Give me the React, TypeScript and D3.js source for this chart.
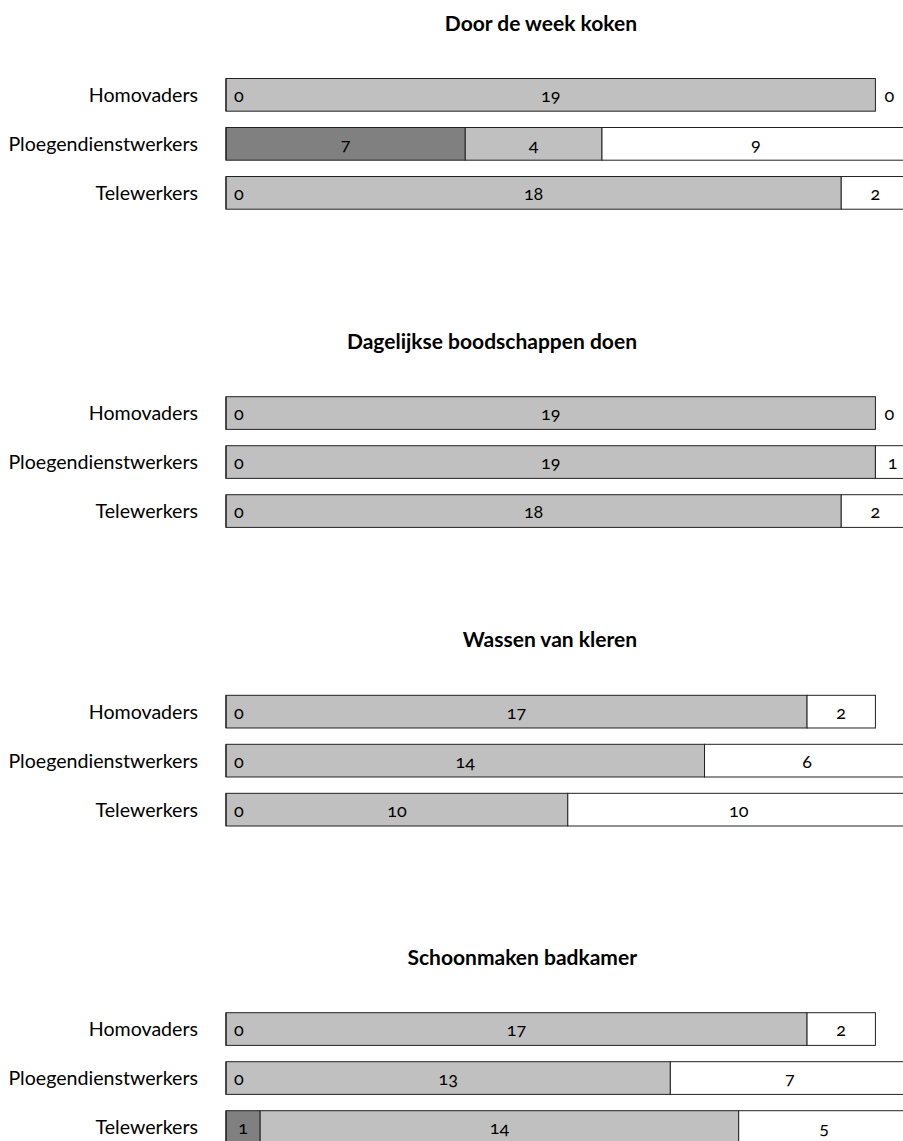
import React, { useEffect, useRef } from "react";
import * as d3 from "d3";

// panel titles
const titles: string[] = [
  "Door de week koken",
  "Dagelijkse boodschappen doen",
  "Wassen van kleren",
  "Schoonmaken badkamer",
];

const groups: string[] = ["Homovaders", "Ploegendienstwerkers", "Telewerkers"];

// three stacked parts per bar: [dark, light, white]
const koken: number[][] = [
  [0, 19, 0],
  [7, 4, 9],
  [0, 18, 2],
];
const boodschappen: number[][] = [
  [0, 19, 0],
  [0, 19, 1],
  [0, 18, 2],
];
const wassen: number[][] = [
  [0, 17, 2],
  [0, 14, 6],
  [0, 10, 10],
];
const badkamer: number[][] = [
  [0, 17, 2],
  [0, 13, 7],
  [1, 14, 5],
];

const panels = [koken, boodschappen, wassen, badkamer];

const width = 903;
const height = 1141;
const barLeft = 226;
const panelTops = [78.5, 396.7, 695.3, 1012.7];
const fills = ["#808080", "#c0c0c0", "#ffffff"];
const font = "Lato, 'Open Sans', sans-serif";

export default function App() {
  const holderRef = useRef<HTMLDivElement | null>(null);

  useEffect(() => {
    const holder = holderRef.current;
    if (!holder || holder.hasChildNodes()) return;

    const x = d3.scaleLinear().domain([0, 20]).range([barLeft, barLeft + 20 * 34.18]);

    const svg = d3
      .select(holder)
      .append("svg")
      .attr("width", width)
      .attr("height", height)
      .style("position", "absolute")
      .style("left", "0px")
      .style("top", "0px")
      .style("font-family", font);

    panels.forEach((rows, pi) => {
      const top = panelTops[pi];
      const y = d3
        .scaleBand()
        .domain(groups)
        .range([top, top + 130.7])
        .paddingInner(0.333)
        .paddingOuter(0);

      const g = svg.append("g");

      g.append("text")
        .attr("x", 637)
        .attr("y", top - 48)
        .attr("text-anchor", "end")
        .attr("font-size", 21)
        .attr("font-weight", "bold")
        .attr("fill", "#000")
        .text(titles[pi]);

      rows.forEach((vals, ri) => {
        const name = groups[ri];
        const y0 = y(name) as number;
        const bh = y.bandwidth();
        const cy = y0 + bh / 2;

        g.append("text")
          .attr("x", 198)
          .attr("y", cy)
          .attr("dy", "0.35em")
          .attr("text-anchor", "end")
          .attr("font-size", 19.6)
          .attr("fill", "#000")
          .text(name);

        // segments first
        let acc = 0;
        vals.forEach((v, si) => {
          const a = x(acc);
          const b = x(acc + v);
          if (v > 0) {
            g.append("rect")
              .attr("x", a)
              .attr("y", y0)
              .attr("width", b - a)
              .attr("height", bh)
              .attr("fill", fills[si])
              .attr("stroke", "#222")
              .attr("stroke-width", 1);
          }
          acc += v;
        });

        // left border of bar
        g.append("line")
          .attr("x1", x(0))
          .attr("x2", x(0))
          .attr("y1", y0)
          .attr("y2", y0 + bh)
          .attr("stroke", "#222")
          .attr("stroke-width", 1.2);

        // then the value labels on top
        acc = 0;
        vals.forEach((v, si) => {
          const a = x(acc);
          const b = x(acc + v);
          let lx = (a + b) / 2;
          let anchor = "middle";
          if (v === 0) {
            lx = si === 0 ? a + 8 : a + 9;
            anchor = "start";
          }
          g.append("text")
            .attr("x", lx)
            .attr("y", cy + 1)
            .attr("dy", "0.35em")
            .attr("text-anchor", anchor)
            .attr("font-size", 18)
            .attr("fill", "#000")
            .style("font-variant-numeric", "oldstyle-nums")
            .text(String(v));
          acc += v;
        });
      });
    });
  }, []);

  return <div ref={holderRef} />;
}
